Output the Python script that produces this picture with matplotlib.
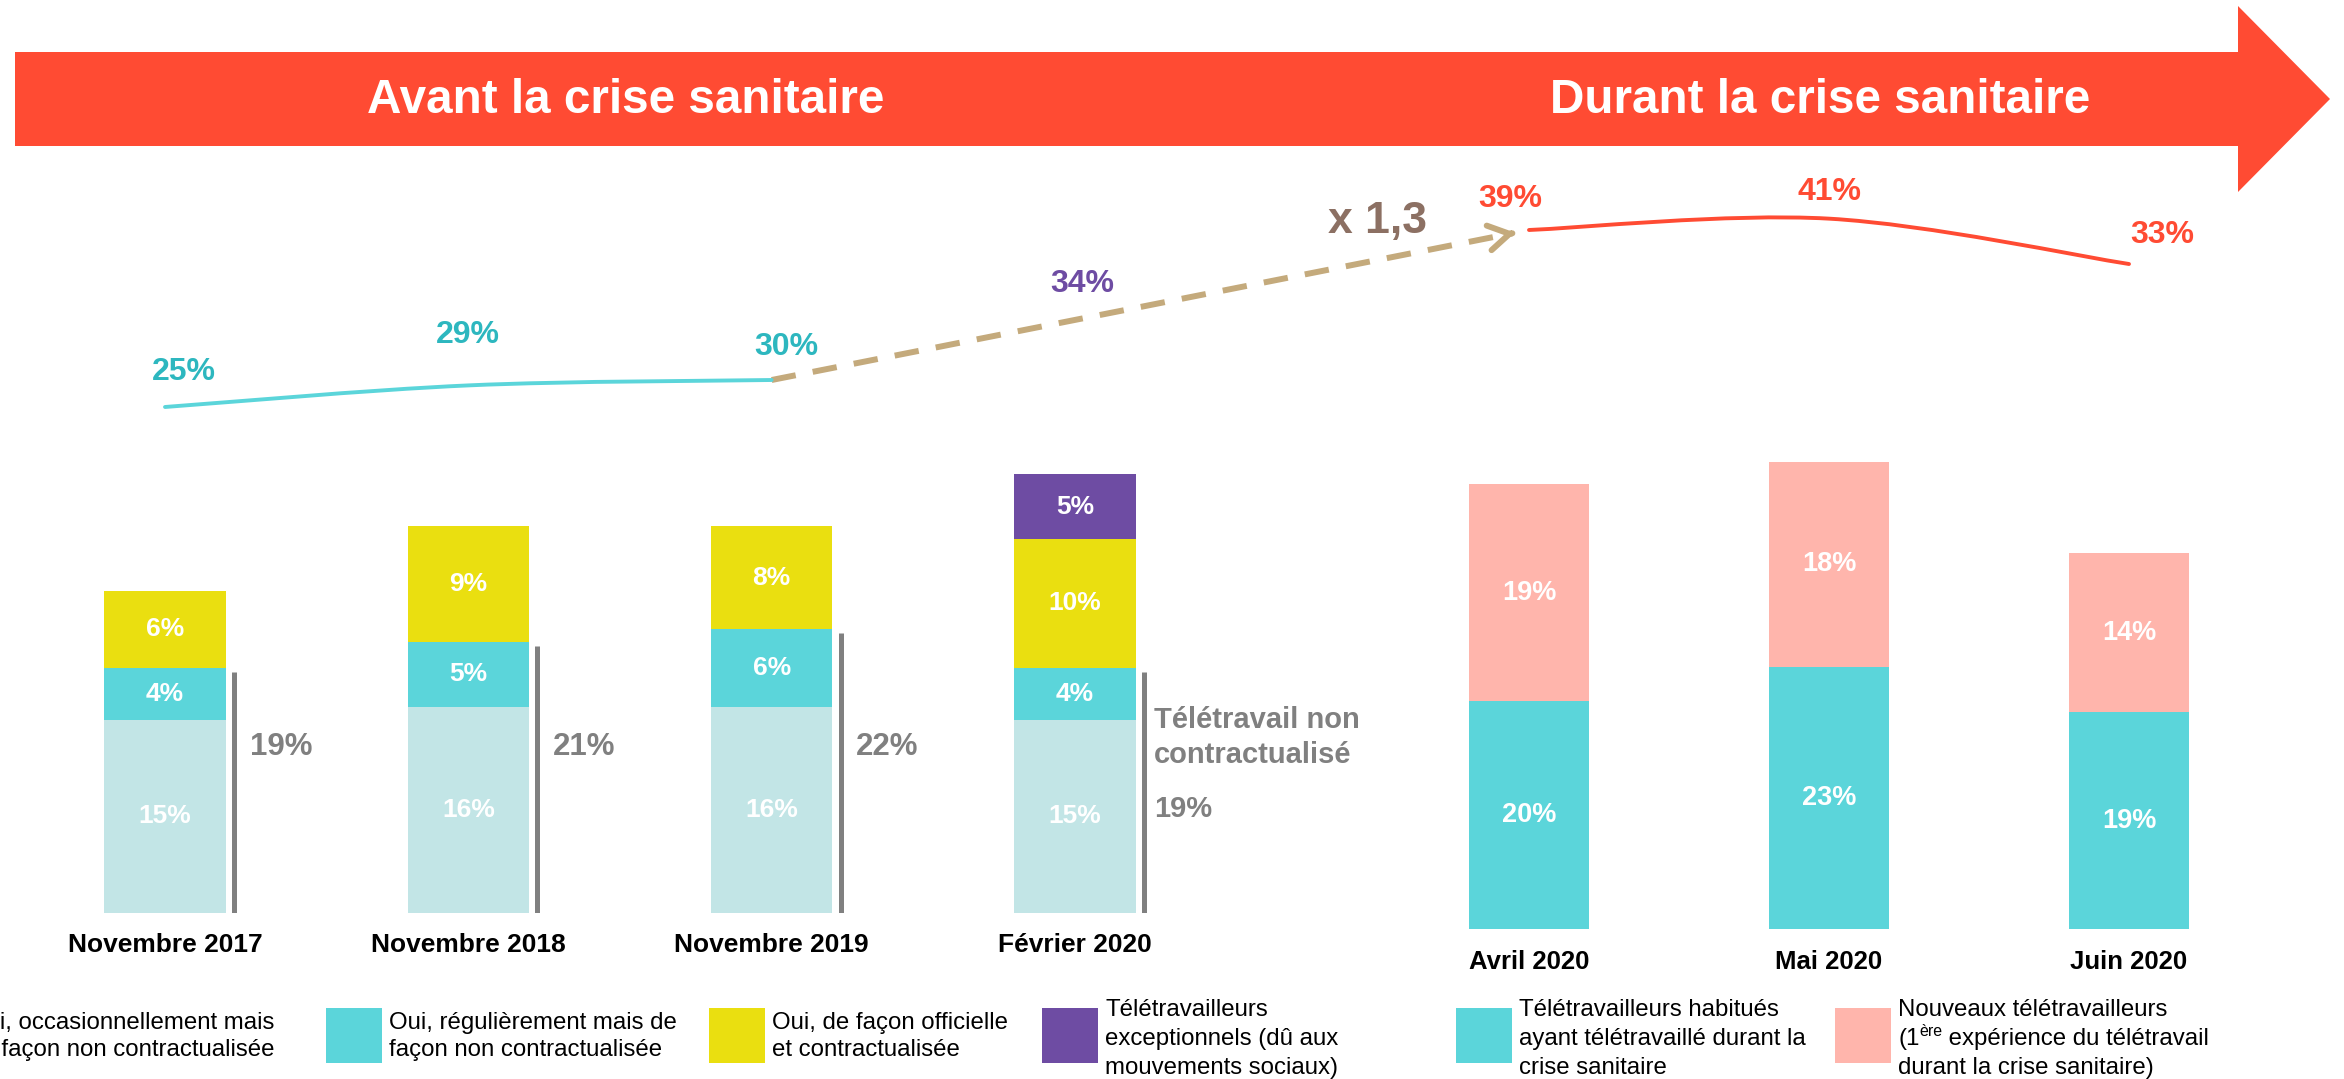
import numpy as np
import matplotlib
matplotlib.use("Agg")
import matplotlib.pyplot as plt
from matplotlib.patches import Polygon, Rectangle, PathPatch
from matplotlib.path import Path
from matplotlib.transforms import blended_transform_factory

plt.rcParams['font.family'] = ['Liberation Sans', 'DejaVu Sans']

W, H = 2344, 1079

# -------------------------------------------------
# Data
# -------------------------------------------------

periodes_avant = ["Novembre 2017", "Novembre 2018", "Novembre 2019", "Février 2020"]
occasionnel = [15, 16, 16, 15]
regulier = [4, 5, 6, 4]
officiel = [6, 9, 8, 10]
exceptionnel = [0, 0, 0, 5]
non_contractualise = [19, 21, 22, 19]
taux_avant = [25, 29, 30]
taux_fevrier = 34

periodes_durant = ["Avril 2020", "Mai 2020", "Juin 2020"]
habitues = [20, 23, 19]
nouveaux = [19, 18, 14]
taux_durant = [39, 41, 33]

facteur = "x 1,3"
titre_avant = "Avant la crise sanitaire"
titre_durant = "Durant la crise sanitaire"
label_non_contract = "Télétravail non\ncontractualisé"

legende_avant = [
    ["Oui, occasionnellement mais", "de façon non contractualisée"],
    ["Oui, régulièrement mais de", "façon non contractualisée"],
    ["Oui, de façon officielle", "et contractualisée"],
    ["Télétravailleurs", "exceptionnels (dû aux", "mouvements sociaux)"],
]
legende_durant = [
    ["Télétravailleurs habitués", "ayant télétravaillé durant la", "crise sanitaire"],
    ["Nouveaux télétravailleurs", "(1|ère| expérience du télétravail", "durant la crise sanitaire)"],
]

# -------------------------------------------------
# Colours
# -------------------------------------------------

RED = "#FF4B33"
LIGHT = "#C2E5E6"
CYAN = "#5BD5DA"
YELLOW = "#EADF10"
PURPLE = "#6E4CA3"
PINK = "#FFB5AC"
GRAY = "#808080"
TEAL_TXT = "#2DB7BF"
BEIGE = "#C4AA7C"
BROWN = "#8C7063"

fig = plt.figure(figsize=(W / 100, H / 100), dpi=100)


def px_axes(x0, y0, x1, y1):
    ax = fig.add_axes([x0 / W, 1 - y1 / H, (x1 - x0) / W, (y1 - y0) / H])
    ax.patch.set_visible(False)
    ax.axis("off")
    return ax


def smooth_path(xs, ys):
    pts = np.column_stack([xs, ys]).astype(float)
    n = len(pts)
    verts = [pts[0]]
    codes = [Path.MOVETO]
    for i in range(n - 1):
        p0 = pts[max(i - 1, 0)]
        p1 = pts[i]
        p2 = pts[i + 1]
        p3 = pts[min(i + 2, n - 1)]
        verts += [p1 + (p2 - p0) / 6, p2 - (p3 - p1) / 6, p2]
        codes += [Path.CURVE4] * 3
    return Path(verts, codes)


# overlay in pixel coordinates for banner / legend
overlay = px_axes(0, 0, W, H)
overlay.set_xlim(0, W)
overlay.set_ylim(H, 0)

# -------------------------------------------------
# Banner arrow
# -------------------------------------------------

overlay.add_patch(Polygon(
    [(15, 52), (2238, 52), (2238, 6), (2330, 99), (2238, 192), (2238, 146), (15, 146)],
    closed=True, facecolor=RED, edgecolor="none"))
overlay.text(626, 113, titre_avant, ha="center", va="baseline",
             fontsize=34.3, fontweight="bold", color="white")
overlay.text(1820, 113, titre_durant, ha="center", va="baseline",
             fontsize=34.3, fontweight="bold", color="white")

# -------------------------------------------------
# Bars before the crisis
# -------------------------------------------------

step_l = (1075 - 165) / 3
ax_l = px_axes(165 - 0.5 * step_l, 397, 165 + 3.5 * step_l, 913)
ax_l.set_xlim(-0.5, 3.5)
ax_l.set_ylim(0, 40)

x_l = np.arange(len(periodes_avant))
bottom = np.zeros(len(x_l))
for vals, col in zip([occasionnel, regulier, officiel, exceptionnel],
                     [LIGHT, CYAN, YELLOW, PURPLE]):
    bars = ax_l.bar(x_l, vals, width=0.4, bottom=bottom, color=col)
    ax_l.bar_label(bars, labels=[f"{v}%" if v else "" for v in vals],
                   label_type="center", color="white", fontsize=19,
                   fontweight="bold")
    bottom += np.array(vals)

for i, tot in enumerate(non_contractualise):
    ax_l.vlines(i + 0.2 + 0.028, 0, tot - 0.3, color=GRAY, lw=3.6)
    if i < len(non_contractualise) - 1:
        ax_l.text(i + 0.2 + 0.079, 12.9, f"{tot}%", ha="left", va="center",
                  fontsize=22.5, fontweight="bold", color=GRAY)
    else:
        ax_l.text(i + 0.2 + 0.06, 13.6, label_non_contract, ha="left",
                  va="center", fontsize=21, fontweight="bold", color=GRAY,
                  linespacing=1.3)
        ax_l.text(i + 0.2 + 0.06, 8.1, f"{tot}%", ha="left", va="center",
                  fontsize=21, fontweight="bold", color=GRAY)

trans_l = blended_transform_factory(ax_l.transData, overlay.transData)
for i, lab in enumerate(periodes_avant):
    ax_l.text(i, 952, lab, transform=trans_l, ha="center", va="baseline",
              fontsize=19, fontweight="bold", color="black")

# -------------------------------------------------
# Bars during the crisis
# -------------------------------------------------

ax_r = px_axes(1379, 416, 2279, 929)
ax_r.set_xlim(-0.5, 2.5)
ax_r.set_ylim(0, 45)

x_r = np.arange(len(periodes_durant))
b1 = ax_r.bar(x_r, habitues, width=0.4, color=CYAN)
b2 = ax_r.bar(x_r, nouveaux, width=0.4, bottom=habitues, color=PINK)
for b, vals in [(b1, habitues), (b2, nouveaux)]:
    ax_r.bar_label(b, labels=[f"{v}%" for v in vals], label_type="center",
                   color="white", fontsize=19.5, fontweight="bold")

trans_r = blended_transform_factory(ax_r.transData, overlay.transData)
for i, lab in enumerate(periodes_durant):
    ax_r.text(i, 969, lab, transform=trans_r, ha="center", va="baseline",
              fontsize=18.5, fontweight="bold", color="black")

# -------------------------------------------------
# Lines (total telework rate)
# -------------------------------------------------

ax_ll = px_axes(165 - 0.5 * step_l, 340, 165 + 3.5 * step_l, 420)
ax_ll.set_xlim(-0.5, 3.5)
ax_ll.set_ylim(22.59, 37.41)
ax_ll.add_patch(PathPatch(smooth_path(np.arange(len(taux_avant)), taux_avant),
                          facecolor="none", edgecolor=CYAN, lw=2.8,
                          capstyle="round", clip_on=False))
for i, (v, off) in enumerate(zip(taux_avant, [(19, 35), (0, 50), (15, 33)])):
    ax_ll.annotate(f"{v}%", xy=(i, v), xytext=off, textcoords="offset pixels",
                   ha="center", va="center", fontsize=23, fontweight="bold",
                   color=TEAL_TXT, annotation_clip=False)
ax_ll.annotate(f"{taux_fevrier}%", xy=(3, taux_fevrier), xytext=(7, 74),
               textcoords="offset pixels", ha="center", va="center",
               fontsize=23, fontweight="bold", color=PURPLE,
               annotation_clip=False)

ax_lr = px_axes(1379, 200, 2279, 280)
ax_lr.set_xlim(-0.5, 2.5)
ax_lr.set_ylim(30.18, 44.29)
ax_lr.add_patch(PathPatch(smooth_path(np.arange(len(taux_durant)), taux_durant),
                          facecolor="none", edgecolor=RED, lw=2.8,
                          capstyle="round", clip_on=False))
for i, (v, off) in enumerate(zip(taux_durant, [(-19, 31), (0, 27), (33, 29)])):
    ax_lr.annotate(f"{v}%", xy=(i, v), xytext=off, textcoords="offset pixels",
                   ha="center", va="center", fontsize=23, fontweight="bold",
                   color=RED, annotation_clip=False)

# dashed arrow between the two periods
inv = overlay.transData.inverted()
pa = inv.transform(ax_ll.transData.transform((len(taux_avant) - 1, taux_avant[-1])))
pb = inv.transform(ax_lr.transData.transform((0, taux_durant[0])))
d = (pb - pa) / np.hypot(*(pb - pa))
tip = pb - d * 14
overlay.plot([pa[0], tip[0] - d[0] * 4], [pa[1], tip[1] - d[1] * 4],
             color=BEIGE, lw=4.3, dashes=(4.1, 2.9), solid_capstyle="butt",
             dash_capstyle="butt")
overlay.annotate("", xy=tip, xytext=tip - d * 3,
                 arrowprops=dict(arrowstyle="->,head_length=0.75,head_width=0.45",
                                 color=BEIGE, lw=4.3, shrinkA=0, shrinkB=0,
                                 mutation_scale=20, capstyle="round"))
overlay.text(1378, 233, facteur, ha="center", va="baseline", fontsize=32,
             fontweight="bold", color=BROWN)

# -------------------------------------------------
# Legend
# -------------------------------------------------

renderer = fig.canvas.get_renderer()
entries = list(zip(legende_avant + legende_durant,
                   [LIGHT, CYAN, YELLOW, PURPLE, CYAN, PINK],
                   [-95, 326, 709, 1042, 1456, 1835]))
for lines, col, sx in entries:
    overlay.add_patch(Rectangle((sx, 1008), 56, 55, facecolor=col,
                                edgecolor="none", clip_on=False))
    tx = sx + 63
    ys = [1029, 1056] if len(lines) == 2 else [1016, 1045, 1074]
    for y, line in zip(ys, lines):
        if "|" in line:
            parts = line.split("|")
            x = tx
            for k, part in enumerate(parts):
                sup = k == 1
                t = overlay.text(x, y - 9 if sup else y, part, ha="left",
                                 va="baseline", fontsize=11.5 if sup else 17.3,
                                 color="black")
                bb = t.get_window_extent(renderer)
                x = inv.transform((bb.x1, bb.y0))[0]
        else:
            overlay.text(tx, y, line, ha="left", va="baseline", fontsize=17.3,
                         color="black")

fig.savefig("out.png", dpi=100)
plt.close(fig)
